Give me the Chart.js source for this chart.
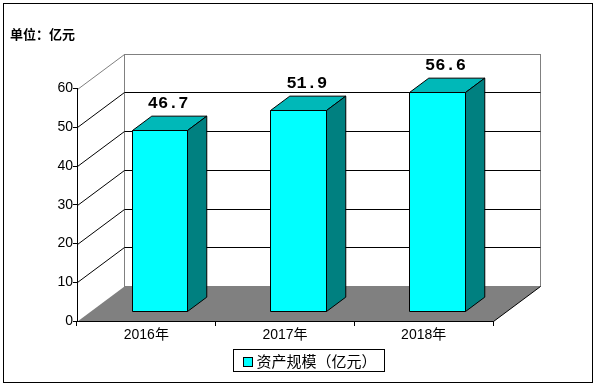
<!DOCTYPE html>
<html>
<head>
<meta charset="utf-8">
<script src="https://cdn.jsdelivr.net/npm/chart.js@4/dist/chart.umd.min.js"></script>
<style>
  body { margin: 0; background: #fff; }
</style>
</head>
<body>
<canvas id="chartBar" width="598" height="387"></canvas>
<script>
  "use strict";

  var categories = ["2016年", "2017年", "2018年"];
  var assetValues = [46.7, 51.9, 56.6];
  var seriesName = "资产规模（亿元）";
  var unitTitle = "单位：亿元";
  var yMax = 60, yStep = 10;

  // 3D look: depth of the walls and where the bars sit inside it
  var depthX = 47, depthY = -35;
  var barFront = 0.28, barDepth = 0.41;

  var sansFont = "'Liberation Sans', 'Noto Sans CJK SC', sans-serif";
  var cjkFont = "'Noto Sans CJK SC', sans-serif";

  function line(ctx, x1, y1, x2, y2, color) {
    ctx.strokeStyle = color;
    ctx.beginPath();
    ctx.moveTo(x1, y1);
    ctx.lineTo(x2, y2);
    ctx.stroke();
  }

  var box3d = {
    id: "box3d",
    beforeDraw: function(chart) {
      var ctx = chart.ctx, area = chart.chartArea, ys = chart.scales.y;
      var left = area.left + 0.5, right = area.right + 0.5;
      var y0 = Math.round(ys.getPixelForValue(0)) + 0.5;
      var yTop = Math.round(ys.getPixelForValue(yMax)) + 0.5;
      ctx.save();
      ctx.fillStyle = "#fff";
      ctx.fillRect(0, 0, chart.width, chart.height);
      ctx.lineWidth = 1;

      // back wall
      ctx.strokeStyle = "#808080";
      ctx.strokeRect(left + depthX, yTop + depthY, right - left, y0 - yTop);

      // grid: diagonal on the side wall + line on the back wall
      for (var v = yStep; v <= yMax; v += yStep) {
        var y = Math.round(ys.getPixelForValue(v)) + 0.5;
        var col = v === yMax ? "#808080" : "#000";
        line(ctx, left, y, left + depthX, y + depthY, col);
        if (v < yMax) line(ctx, left + depthX, y + depthY, right + depthX, y + depthY, "#000");
      }

      // floor
      ctx.fillStyle = "#808080";
      ctx.beginPath();
      ctx.moveTo(left, y0);
      ctx.lineTo(right, y0);
      ctx.lineTo(right + depthX, y0 + depthY);
      ctx.lineTo(left + depthX, y0 + depthY);
      ctx.closePath();
      ctx.fill();
      line(ctx, right, y0, right + depthX, y0 + depthY, "#000");
      ctx.restore();
    },
    beforeDatasetDraw: function() {
      return false;
    },
    afterDatasetsDraw: function(chart) {
      var ctx = chart.ctx, ys = chart.scales.y;
      var meta = chart.getDatasetMeta(0);
      var data = chart.data.datasets[0].data;
      var dx = depthX * barDepth, dy = depthY * barDepth;
      var yBase = ys.getPixelForValue(0) + depthY * barFront;
      ctx.save();
      ctx.lineWidth = 1;
      ctx.strokeStyle = "#000";
      ctx.lineJoin = "round";
      meta.data.forEach(function(bar, i) {
        var cx = bar.x + depthX * barFront;
        var x1 = Math.round(cx - bar.width / 2) + 0.5;
        var x2 = Math.round(cx + bar.width / 2) + 0.5;
        var yT = Math.round(ys.getPixelForValue(data[i]) + depthY * barFront) + 0.5;
        var yB = Math.round(yBase) + 0.5;

        ctx.fillStyle = "#00ffff";
        ctx.fillRect(x1, yT, x2 - x1, yB - yT);
        ctx.strokeRect(x1, yT, x2 - x1, yB - yT);

        ctx.fillStyle = "#00b8b8";
        ctx.beginPath();
        ctx.moveTo(x1, yT);
        ctx.lineTo(x1 + dx, yT + dy);
        ctx.lineTo(x2 + dx, yT + dy);
        ctx.lineTo(x2, yT);
        ctx.closePath();
        ctx.fill();
        ctx.stroke();

        ctx.fillStyle = "#008080";
        ctx.beginPath();
        ctx.moveTo(x2, yT);
        ctx.lineTo(x2 + dx, yT + dy);
        ctx.lineTo(x2 + dx, yB + dy);
        ctx.lineTo(x2, yB);
        ctx.closePath();
        ctx.fill();
        ctx.stroke();

        ctx.fillStyle = "#000";
        ctx.font = "bold 17px 'Liberation Mono', monospace";
        ctx.textAlign = "center";
        ctx.textBaseline = "middle";
        ctx.fillText(data[i].toFixed(1), cx + dx / 2 - 1, yT + dy - 12);
      });
      ctx.restore();
    },
    afterDraw: function(chart) {
      var ctx = chart.ctx, area = chart.chartArea, ys = chart.scales.y;
      var ds = chart.data.datasets[0];
      ctx.save();
      ctx.lineWidth = 1;
      ctx.strokeStyle = "#000";

      // legend with a frame
      ctx.font = "15px " + cjkFont;
      var tw = ctx.measureText(ds.label).width;
      var w = Math.round(10 + 9 + 4 + tw + 8);
      var cxl = (area.left + area.right + depthX) / 2;
      var lx = Math.round(cxl - w / 2) + 0.5;
      var ly = Math.round(ys.getPixelForValue(0)) + 28.5;
      ctx.strokeRect(lx, ly, w, 22);
      ctx.fillStyle = ds.backgroundColor;
      ctx.fillRect(lx + 10, ly + 8, 9, 9);
      ctx.strokeRect(lx + 10, ly + 8, 9, 9);
      ctx.fillStyle = "#000";
      ctx.textAlign = "left";
      ctx.textBaseline = "middle";
      ctx.fillText(ds.label, lx + 23, ly + 11.5);

      // outer frame
      ctx.strokeRect(3.5, 3.5, 589, 379);
      ctx.restore();
    }
  };

  var ctx = document.getElementById("chartBar").getContext("2d");

  var myChart = new Chart(ctx, {
    type: "bar",
    data: {
      labels: categories,
      datasets: [{
        label: seriesName,
        backgroundColor: "#00ffff",
        borderColor: "#000",
        data: assetValues,
        categoryPercentage: 1,
        barPercentage: 0.4
      }]
    },
    options: {
      responsive: false,
      animation: false,
      layout: {
        padding: { left: 10, right: 105, top: 26, bottom: 0 }
      },
      scales: {
        x: {
          afterFit: function(scale) { scale.height = 66; },
          grid: {
            offset: true,
            drawOnChartArea: false,
            tickLength: 5,
            color: "#000"
          },
          border: { display: true, color: "#000" },
          ticks: {
            padding: 1,
            color: "#000",
            font: { family: sansFont, size: 14 }
          }
        },
        y: {
          min: 0,
          max: yMax,
          afterFit: function(scale) { scale.width = 67; },
          grid: {
            drawOnChartArea: false,
            tickLength: 4,
            color: "#000"
          },
          border: { display: true, color: "#000" },
          ticks: {
            stepSize: yStep,
            padding: 0,
            color: "#000",
            font: { family: sansFont, size: 14 }
          }
        }
      },
      plugins: {
        legend: { display: false },
        tooltip: { enabled: false },
        title: {
          display: true,
          text: unitTitle,
          align: "start",
          color: "#000",
          font: { family: cjkFont, size: 13, weight: "bold" },
          padding: { top: 0, bottom: 47 }
        }
      }
    },
    plugins: [box3d]
  });
</script>
</body>
</html>
